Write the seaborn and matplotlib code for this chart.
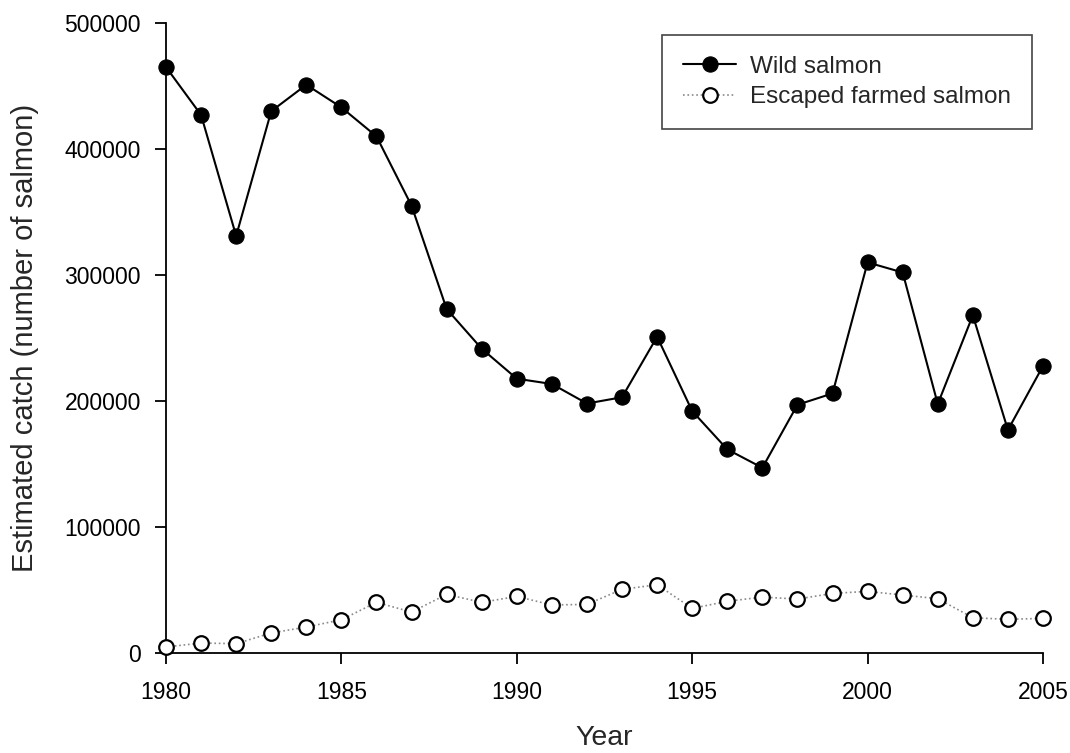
import matplotlib
matplotlib.use("Agg")
import matplotlib.pyplot as plt
import seaborn as sns
import pandas as pd

years = list(range(1980, 2006))
wild_salmon = [465000, 427000, 331000, 430000, 451000, 433000, 410000, 355000,
               273000, 241500, 217700, 213500, 198000, 203000, 251000, 192000,
               161600, 147000, 197000, 206000, 310000, 302000, 197600, 268000,
               177000, 227800]
farmed_salmon = [4800, 7900, 7400, 15900, 20600, 26400, 40200, 32500,
                 46500, 40200, 44900, 38100, 38600, 50500, 54200, 35400,
                 41000, 44400, 42800, 47300, 48900, 46000, 43100, 28000,
                 26700, 27500]
series_labels = ["Wild salmon", "Escaped farmed salmon"]
x_ticks = [1980, 1985, 1990, 1995, 2000, 2005]
y_ticks = [0, 100000, 200000, 300000, 400000, 500000]

df = pd.DataFrame({"Year": years, "wild": wild_salmon, "farmed": farmed_salmon})

sns.set_style("ticks")
plt.rcParams["font.family"] = ["Liberation Sans", "DejaVu Sans"]

fig = plt.figure(figsize=(10.7, 7.53), dpi=100)
ax = fig.add_axes([166 / 1070, 1 - 653 / 753, (1043 - 166) / 1070, (653 - 23) / 753])

sns.lineplot(data=df, x="Year", y="farmed", ax=ax, color="#8a8a8a", linestyle=":",
             linewidth=1.2, marker="o", markersize=10.5, markerfacecolor="white",
             markeredgecolor="black", markeredgewidth=1.6, clip_on=False,
             label=series_labels[1], zorder=3)
sns.lineplot(data=df, x="Year", y="wild", ax=ax, color="black", linestyle="-",
             linewidth=1.5, marker="o", markersize=11, markerfacecolor="black",
             markeredgecolor="black", clip_on=False, label=series_labels[0], zorder=4)

ax.set_xlim(1980, 2005)
ax.set_ylim(0, 500000)
ax.set_xticks(x_ticks)
ax.set_xticklabels([str(t) for t in x_ticks])
ax.set_yticks(y_ticks)
ax.set_yticklabels([str(t) for t in y_ticks])
ax.tick_params(axis="both", direction="out", length=8, width=1.3, labelsize=16.5,
               colors="black")
ax.tick_params(axis="x", pad=12)
ax.tick_params(axis="y", pad=10)
for s in ["top", "right"]:
    ax.spines[s].set_visible(False)
for s in ["left", "bottom"]:
    ax.spines[s].set_linewidth(1.3)
    ax.spines[s].set_color("black")

ax.set_xlabel("Year", fontsize=20.5, labelpad=15)
ax.set_ylabel("Estimated catch (number of salmon)", fontsize=21, labelpad=18)

handles, labels = ax.get_legend_handles_labels()
order = [labels.index(series_labels[0]), labels.index(series_labels[1])]
leg = ax.legend([handles[i] for i in order], [labels[i] for i in order],
                loc="upper right", bbox_to_anchor=(0.9875, 0.981),
                borderaxespad=0, fontsize=17.5, frameon=True, fancybox=False,
                edgecolor="#444444", framealpha=1, handlelength=2.2,
                handletextpad=0.58, borderpad=0.85, labelspacing=0.35)
leg.get_frame().set_linewidth(1.2)

fig.savefig("out.png", dpi=100)
